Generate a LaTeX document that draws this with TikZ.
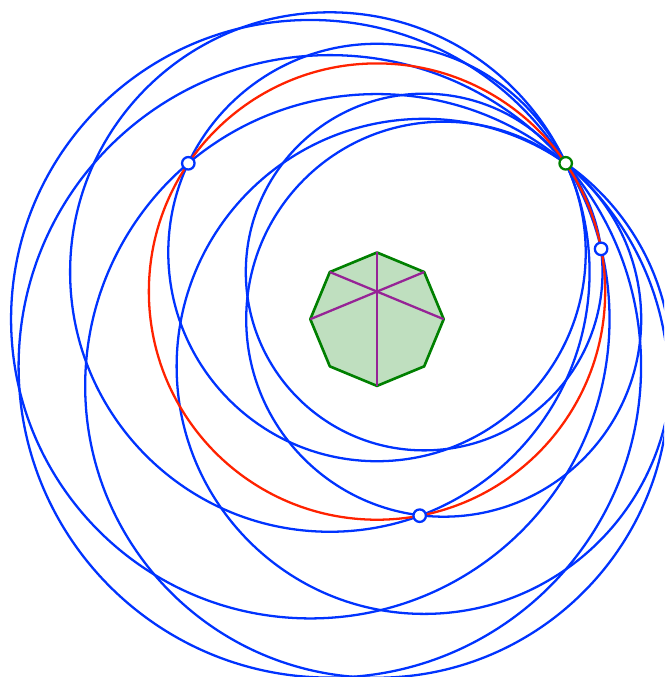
\documentclass[tikz,border=0pt]{standalone}
\usepackage{tikz}
\usetikzlibrary{calc}
\definecolor{circblue}{RGB}{0,51,255}
\definecolor{circred}{RGB}{255,34,0}
\definecolor{octgreen}{RGB}{0,128,0}
\definecolor{diagpurple}{RGB}{150,35,150}

\begin{document}
\begin{tikzpicture}[x=0.02cm, y=0.02cm,
    circulo/.style={draw=circblue, line width=1.3pt},
    circulorojo/.style={draw=circred, line width=1.3pt},
    octo/.style={draw=octgreen, line width=1.5pt, fill=octgreen, fill opacity=0.25, line join=round},
    diag/.style={draw=diagpurple, line width=1.3pt},
    punto/.style={circle, draw=circblue, fill=white, line width=1.3pt, inner sep=0pt, minimum size=0.25cm},
    puntoverde/.style={punto, draw=octgreen}
]
    \useasboundingbox (0,0) rectangle (664,677);
    \clip (0,0) rectangle (664,677);

    % Octágono regular y punto G
    \coordinate (O) at (377,357.8);
    \coordinate (G) at (565.7,513.7);
    \foreach \i in {0,...,7}
        \coordinate (V\i) at ($(O)+(90-45*\i:66.7)$);

    % Circunferencias con centro en cada vértice, por G
    \foreach \i in {0,...,7}
        \draw[circulo] let \p1 = ($(G)-(V\i)$), \n1 = {veclen(\x1,\y1)} in (V\i) circle (\n1);

    % Circunferencia roja (centro en el corte de las diagonales)
    \coordinate (P) at (intersection of V0--V4 and V7--V2);
    \draw[circulorojo] let \p1 = ($(G)-(P)$), \n1 = {veclen(\x1,\y1)} in (P) circle (\n1);

    % Octágono y diagonales
    \draw[octo] (V0) \foreach \i in {1,...,7}{ -- (V\i)} -- cycle;
    \draw[diag] (V0) -- (V4);
    \draw[diag] (V7) -- (V2);
    \draw[diag] (V1) -- (V6);

    % Simétricos de G respecto a las diagonales
    \coordinate (F0) at ($(V0)!(G)!(V4)$);
    \coordinate (F1) at ($(V7)!(G)!(V2)$);
    \coordinate (F2) at ($(V1)!(G)!(V6)$);
    \node[punto] (A) at ($(G)!2!(F0)$) {};
    \node[punto] (C) at ($(G)!2!(F1)$) {};
    \node[punto] (B) at ($(G)!2!(F2)$) {};
    \node[puntoverde] (Gp) at (G) {};
\end{tikzpicture}
\end{document}
